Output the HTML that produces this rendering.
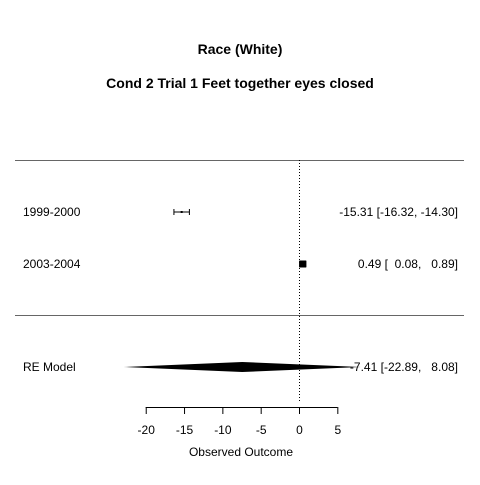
<!DOCTYPE html>
<html><head><meta charset="utf-8"><style>
body{margin:0;background:#fff}
svg text{font-family:"Liberation Sans",Arial,sans-serif;fill:#000}
</style></head><body>
<svg width="480" height="480" xmlns="http://www.w3.org/2000/svg">
<text x="240" y="54" text-anchor="middle" font-size="14" font-weight="bold">Race (White)</text>
<text x="240" y="88" text-anchor="middle" font-size="14" font-weight="bold">Cond 2 Trial 1 Feet together eyes closed</text>
<line x1="15" x2="464" y1="160.5" y2="160.5" stroke="#666"/>
<line x1="15" x2="464" y1="315.5" y2="315.5" stroke="#666"/>
<g id="plot"></g>
</svg>
<script>
const studies=["1999-2000","2003-2004"];
const est=[-15.31,0.49];
const lo=[-16.32,0.08];
const hi=[-14.30,0.89];
const sizes=[2,7];
const reLabel="RE Model";
const reEst=-7.41, reLo=-22.89, reHi=8.08;
const ticks=[-20,-15,-10,-5,0,5];
const ns="http://www.w3.org/2000/svg";
const g=document.getElementById('plot');
const X=v=>299+v*7.664;
const rowY=[212,264];
function mk(t,a,p){const e=document.createElementNS(ns,t);for(const k in a)e.setAttribute(k,a[k]);(p||g).appendChild(e);return e;}
const fmt=v=>(v<0?"":"")+v.toFixed(2);
const pad=v=>{const s=fmt(v);return s.length<6?"\u00a0".repeat(6-s.length)+s:s;};
let ref=mk('line',{x1:X(0)+.5,x2:X(0)+.5,y1:160,y2:403,stroke:'#000','stroke-dasharray':'1,2'});


studies.forEach((s,i)=>{
 const y=rowY[i];
 let t=mk('text',{x:23,y:y+4,'font-size':12});t.textContent=s;
 
 
 let ci=mk('path',{d:`M${X(lo[i])},${y}H${X(hi[i])}M${X(lo[i])},${y-3}V${y+3}M${X(hi[i])},${y-3}V${y+3}`,stroke:'#000',fill:'none'});
 
 
 let sq=mk('rect',{x:X(est[i])-sizes[i]/2,y:y-sizes[i]/2,width:sizes[i],height:sizes[i],fill:'#000'});
 
 
 let v=mk('text',{x:458,y:y+4,'font-size':12,'text-anchor':'end'});
 v.textContent=`${pad(est[i])} [${pad(lo[i])}, ${pad(hi[i])}]`;
 
 
});
const ry=367;
let rl=mk('text',{x:23,y:ry+4,'font-size':12});rl.textContent=reLabel;


let dm=mk('polygon',{points:`${X(reLo)},${ry} ${X(reEst)},${ry-5} ${X(reHi)},${ry} ${X(reEst)},${ry+5}`,fill:'#000'});


let rv=mk('text',{x:458,y:ry+4,'font-size':12,'text-anchor':'end'});
rv.textContent=`${pad(reEst)} [${pad(reLo)}, ${pad(reHi)}]`;


let ax=mk('line',{x1:X(ticks[0]),x2:X(ticks[ticks.length-1]),y1:407.5,y2:407.5,stroke:'#000'});


ticks.forEach(t=>{
 let l=mk('line',{x1:X(t)+.5,x2:X(t)+.5,y1:407,y2:414,stroke:'#000'});
 
 
 let tx=mk('text',{x:X(t)+.5,y:434,'font-size':12,'text-anchor':'middle'});tx.textContent=t;
 
 
});
let xt=mk('text',{x:241,y:456,'font-size':12,'text-anchor':'middle'});xt.textContent="Observed Outcome";


</script>
</body></html>
